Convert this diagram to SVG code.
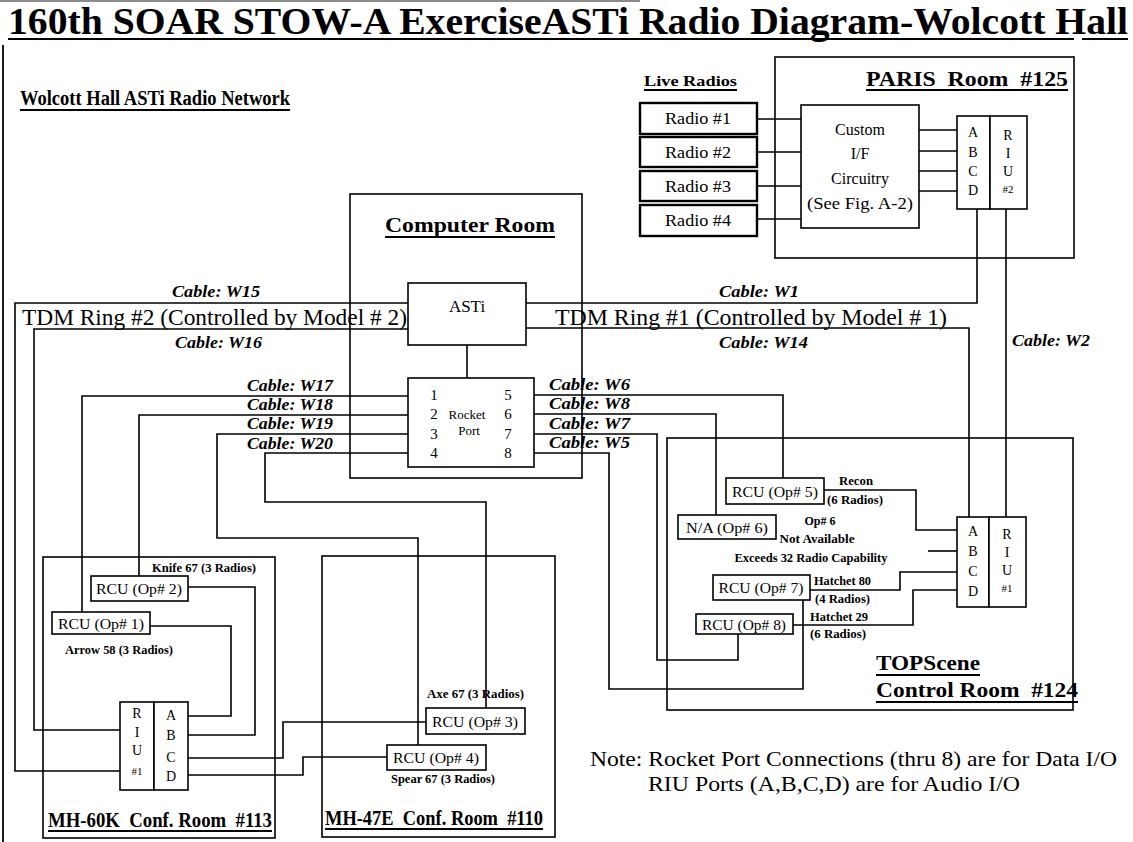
<svg xmlns="http://www.w3.org/2000/svg" width="1133" height="842" viewBox="0 0 1133 842">
<style>
.ln{fill:none;stroke:#000;stroke-width:1.6}
.room{fill:none;stroke:#000;stroke-width:1.6}
.box{fill:#fff;stroke:#000;stroke-width:1.6}
.rb{fill:#fff;stroke:#000;stroke-width:2.4}
.ul{stroke:#000;stroke-width:2}
text{font-family:"Liberation Serif","Times New Roman",serif;fill:#000}
.cab{font-weight:bold;font-style:italic;font-size:16px}
.hd{font-weight:bold;font-size:20px}
.sm{font-weight:bold;font-size:12px}
.rcu{font-size:15px;text-anchor:middle}
.let{font-size:14px;text-anchor:middle}
.num{font-size:11px;text-anchor:middle}
.mid{text-anchor:middle}
</style>
<rect x="0" y="0" width="1133" height="842" fill="#fff"/>

<g id="frame">
  <line x1="0" y1="1" x2="640" y2="1" stroke="#666" stroke-width="1.5"/>
  <line x1="3" y1="45" x2="3" y2="842" stroke="#000" stroke-width="1.8"/>
</g>

<g id="title">
  <text x="8" y="34" font-size="38" font-weight="bold" textLength="1120" lengthAdjust="spacingAndGlyphs">160th SOAR STOW-A ExerciseASTi Radio Diagram-Wolcott Hall</text>
  <line class="ul" x1="8" y1="39" x2="1074" y2="39" stroke-width="2.5"/>
  <line class="ul" x1="1082" y1="39" x2="1128" y2="39" stroke-width="2.5"/>
  <text x="20" y="105" class="hd" font-size="22" textLength="270" lengthAdjust="spacingAndGlyphs">Wolcott Hall ASTi Radio Network</text>
  <line class="ul" x1="20" y1="110" x2="290" y2="110"/>
</g>

<!-- rooms -->
<g id="computer-room">
  <rect class="room" x="350" y="194" width="232" height="284"/>
  <text x="385" y="232" class="hd" font-size="21" textLength="170" lengthAdjust="spacingAndGlyphs">Computer Room</text>
  <line class="ul" x1="385" y1="237" x2="555" y2="237"/>
</g>
<g id="paris-room">
  <rect class="room" x="775" y="57" width="299" height="201"/>
  <text x="866" y="86" class="hd" font-size="20" textLength="202" lengthAdjust="spacingAndGlyphs" xml:space="preserve">PARIS  Room  #125</text>
  <line class="ul" x1="866" y1="90" x2="1068" y2="90"/>
</g>
<g id="topscene-room">
  <rect class="room" x="667" y="438" width="406" height="272"/>
  <text x="876" y="670" class="hd" font-size="21" textLength="104" lengthAdjust="spacingAndGlyphs">TOPScene</text>
  <line class="ul" x1="876" y1="675" x2="980" y2="675"/>
  <text x="876" y="697" class="hd" font-size="21" textLength="202" lengthAdjust="spacingAndGlyphs" xml:space="preserve">Control Room  #124</text>
  <line class="ul" x1="876" y1="702" x2="1078" y2="702"/>
</g>
<g id="mh60k-room">
  <rect class="room" x="43" y="557" width="232" height="281"/>
  <text x="48" y="827" class="hd" font-size="18" textLength="224" lengthAdjust="spacingAndGlyphs" xml:space="preserve">MH-60K  Conf. Room  #113</text>
  <line class="ul" x1="48" y1="831" x2="272" y2="831"/>
</g>
<g id="mh47e-room">
  <rect class="room" x="322" y="556" width="233" height="281"/>
  <text x="325" y="825" class="hd" font-size="18" textLength="218" lengthAdjust="spacingAndGlyphs" xml:space="preserve">MH-47E  Conf. Room  #110</text>
  <line class="ul" x1="325" y1="829" x2="543" y2="829"/>
</g>

<!-- connectors -->
<g id="connectors" class="ln">
  <path d="M408 303 H15 V771 H120"/>
  <path d="M408 329 H34 V730 H120"/>
  <path d="M408 396 H82 V612"/>
  <path d="M408 415 H139 V576"/>
  <path d="M408 434 H217 V538 H418 V745"/>
  <path d="M408 453 H265 V502 H486 V708"/>
  <path d="M526 303 H977 V209"/>
  <path d="M526 328 H969 V517"/>
  <path d="M1006 209 V517"/>
  <path d="M467 345 V378"/>
  <path d="M534 395 H783 V478"/>
  <path d="M534 414 H716 V515"/>
  <path d="M534 434 H657 V660 H738 V634"/>
  <path d="M534 453 H609 V689 H803 V600"/>
  <path d="M757 119 H801 M757 152 H801 M757 186 H801 M757 219 H801"/>
  <path d="M919 130 H957 M919 151 H957 M919 171 H957 M919 191 H957"/>
  <path d="M824 490 H916 V530 H957"/>
  <path d="M928 551 H957"/>
  <path d="M957 572 H900 V590 H810"/>
  <path d="M957 590 H913 V625 H793"/>
  <path d="M150 626 H231 V716 H188"/>
  <path d="M188 587 H255 V735 H188"/>
  <path d="M188 758 H283 V722 H426"/>
  <path d="M188 775 H303 V757 H387"/>
</g>

<g id="cable-labels" class="cab">
  <text x="172" y="297" textLength="88" lengthAdjust="spacingAndGlyphs">Cable: W15</text>
  <text x="175" y="348" textLength="87" lengthAdjust="spacingAndGlyphs">Cable: W16</text>
  <text x="247" y="391" textLength="86" lengthAdjust="spacingAndGlyphs">Cable: W17</text>
  <text x="247" y="410" textLength="86" lengthAdjust="spacingAndGlyphs">Cable: W18</text>
  <text x="247" y="429" textLength="86" lengthAdjust="spacingAndGlyphs">Cable: W19</text>
  <text x="247" y="449" textLength="86" lengthAdjust="spacingAndGlyphs">Cable: W20</text>
  <text x="549" y="390" textLength="81" lengthAdjust="spacingAndGlyphs">Cable: W6</text>
  <text x="549" y="409" textLength="81" lengthAdjust="spacingAndGlyphs">Cable: W8</text>
  <text x="549" y="429" textLength="81" lengthAdjust="spacingAndGlyphs">Cable: W7</text>
  <text x="549" y="448" textLength="81" lengthAdjust="spacingAndGlyphs">Cable: W5</text>
  <text x="719" y="297" textLength="80" lengthAdjust="spacingAndGlyphs">Cable: W1</text>
  <text x="719" y="348" textLength="89" lengthAdjust="spacingAndGlyphs">Cable: W14</text>
  <text x="1012" y="346" textLength="78" lengthAdjust="spacingAndGlyphs">Cable: W2</text>
</g>

<g id="tdm-labels" font-size="23">
  <text x="22" y="325" textLength="385" lengthAdjust="spacingAndGlyphs">TDM Ring #2 (Controlled by Model # 2)</text>
  <text x="555" y="325" textLength="392" lengthAdjust="spacingAndGlyphs">TDM Ring #1 (Controlled by Model # 1)</text>
</g>

<!-- nodes -->
<g id="asti">
  <rect class="box" x="408" y="283" width="118" height="62"/>
  <text x="467" y="312" class="mid" font-size="17">ASTi</text>
</g>
<g id="rocket-port">
  <rect class="box" x="408" y="378" width="126" height="89"/>
  <text x="434" y="400" class="mid" font-size="15">1</text>
  <text x="434" y="419" class="mid" font-size="15">2</text>
  <text x="434" y="439" class="mid" font-size="15">3</text>
  <text x="434" y="458" class="mid" font-size="15">4</text>
  <text x="508" y="400" class="mid" font-size="15">5</text>
  <text x="508" y="419" class="mid" font-size="15">6</text>
  <text x="508" y="439" class="mid" font-size="15">7</text>
  <text x="508" y="458" class="mid" font-size="15">8</text>
  <text x="467" y="419" class="mid" font-size="13">Rocket</text>
  <text x="469" y="435" class="mid" font-size="13">Port</text>
</g>

<g id="live-radios">
  <text x="644" y="86" font-weight="bold" font-size="15" textLength="93" lengthAdjust="spacingAndGlyphs">Live Radios</text>
  <line class="ul" x1="644" y1="90" x2="737" y2="90" stroke-width="1.6"/>
</g>
<g id="radio-1"><rect class="rb" x="640" y="103" width="117" height="31"/><text x="698" y="124" class="mid" font-size="17" textLength="66" lengthAdjust="spacingAndGlyphs">Radio #1</text></g>
<g id="radio-2"><rect class="rb" x="640" y="137" width="117" height="30"/><text x="698" y="158" class="mid" font-size="17" textLength="66" lengthAdjust="spacingAndGlyphs">Radio #2</text></g>
<g id="radio-3"><rect class="rb" x="640" y="171" width="117" height="30"/><text x="698" y="192" class="mid" font-size="17" textLength="66" lengthAdjust="spacingAndGlyphs">Radio #3</text></g>
<g id="radio-4"><rect class="rb" x="640" y="205" width="117" height="31"/><text x="698" y="226" class="mid" font-size="17" textLength="66" lengthAdjust="spacingAndGlyphs">Radio #4</text></g>

<g id="custom-if">
  <rect class="box" x="801" y="105" width="118" height="123"/>
  <text x="860" y="135" class="mid" font-size="16">Custom</text>
  <text x="860" y="159" class="mid" font-size="16">I/F</text>
  <text x="860" y="184" class="mid" font-size="16">Circuitry</text>
  <text x="860" y="209" class="mid" font-size="16" textLength="106" lengthAdjust="spacingAndGlyphs">(See Fig. A-2)</text>
</g>

<g id="riu-2">
  <rect class="box" x="957" y="116" width="33" height="93"/>
  <rect class="box" x="990" y="116" width="37" height="93"/>
  <text x="973" y="137" class="let">A</text>
  <text x="973" y="157" class="let">B</text>
  <text x="973" y="176" class="let">C</text>
  <text x="973" y="195" class="let">D</text>
  <text x="1008" y="140" class="let" font-size="12">R</text>
  <text x="1008" y="158" class="let" font-size="12">I</text>
  <text x="1008" y="176" class="let" font-size="12">U</text>
  <text x="1008" y="193" class="num" font-size="10">#2</text>
</g>

<g id="riu-1-topscene">
  <rect class="box" x="957" y="517" width="32" height="90"/>
  <rect class="box" x="989" y="517" width="37" height="90"/>
  <text x="973" y="536" class="let">A</text>
  <text x="973" y="556" class="let">B</text>
  <text x="973" y="576" class="let">C</text>
  <text x="973" y="596" class="let">D</text>
  <text x="1007" y="539" class="let" font-size="12">R</text>
  <text x="1007" y="557" class="let" font-size="12">I</text>
  <text x="1007" y="575" class="let" font-size="12">U</text>
  <text x="1007" y="592" class="num" font-size="10">#1</text>
</g>

<g id="rcu-op5">
  <rect class="box" x="726" y="478" width="98" height="26"/>
  <text x="775" y="497" class="rcu" textLength="86" lengthAdjust="spacingAndGlyphs">RCU (Op# 5)</text>
  <text x="839" y="485" class="sm" font-size="11" textLength="34" lengthAdjust="spacingAndGlyphs">Recon</text>
  <text x="827" y="504" class="sm" font-size="11" textLength="56" lengthAdjust="spacingAndGlyphs">(6 Radios)</text>
</g>
<g id="na-op6">
  <rect class="box" x="678" y="515" width="98" height="24"/>
  <text x="727" y="533" class="rcu" textLength="82" lengthAdjust="spacingAndGlyphs">N/A (Op# 6)</text>
  <text x="820" y="525" class="sm mid" font-size="11">Op# 6</text>
  <text x="817" y="543" class="sm mid" font-size="11" textLength="75" lengthAdjust="spacingAndGlyphs">Not Available</text>
  <text x="811" y="562" class="sm mid" font-size="11" textLength="153" lengthAdjust="spacingAndGlyphs">Exceeds 32 Radio Capability</text>
</g>
<g id="rcu-op7">
  <rect class="box" x="713" y="575" width="97" height="25"/>
  <text x="761" y="593" class="rcu" textLength="85" lengthAdjust="spacingAndGlyphs">RCU (Op# 7)</text>
  <text x="814" y="585" class="sm" font-size="11" textLength="57" lengthAdjust="spacingAndGlyphs">Hatchet 80</text>
  <text x="815" y="603" class="sm" font-size="11" textLength="55" lengthAdjust="spacingAndGlyphs">(4 Radios)</text>
</g>
<g id="rcu-op8">
  <rect class="box" x="696" y="614" width="97" height="20"/>
  <text x="744" y="630" class="rcu" font-size="14" textLength="84" lengthAdjust="spacingAndGlyphs">RCU (Op# 8)</text>
  <text x="810" y="621" class="sm" font-size="11" textLength="58" lengthAdjust="spacingAndGlyphs">Hatchet 29</text>
  <text x="810" y="638" class="sm" font-size="11" textLength="56" lengthAdjust="spacingAndGlyphs">(6 Radios)</text>
</g>

<g id="rcu-op1">
  <rect class="box" x="52" y="612" width="98" height="22"/>
  <text x="101" y="629" class="rcu" textLength="86" lengthAdjust="spacingAndGlyphs">RCU (Op# 1)</text>
  <text x="65" y="654" class="sm" font-size="11" textLength="108" lengthAdjust="spacingAndGlyphs">Arrow 58 (3 Radios)</text>
</g>
<g id="rcu-op2">
  <rect class="box" x="91" y="576" width="97" height="25"/>
  <text x="139" y="594" class="rcu" textLength="86" lengthAdjust="spacingAndGlyphs">RCU (Op# 2)</text>
  <text x="152" y="572" class="sm" font-size="11" textLength="104" lengthAdjust="spacingAndGlyphs">Knife 67 (3 Radios)</text>
</g>
<g id="riu-1-mh60k">
  <rect class="box" x="120" y="702" width="34" height="88"/>
  <rect class="box" x="154" y="702" width="34" height="88"/>
  <text x="137" y="718" class="let" font-size="12">R</text>
  <text x="137" y="737" class="let" font-size="12">I</text>
  <text x="137" y="755" class="let" font-size="12">U</text>
  <text x="137" y="775" class="num" font-size="10">#1</text>
  <text x="171" y="720" class="let">A</text>
  <text x="171" y="740" class="let">B</text>
  <text x="171" y="762" class="let">C</text>
  <text x="171" y="781" class="let">D</text>
</g>

<g id="rcu-op3">
  <rect class="box" x="426" y="708" width="99" height="26"/>
  <text x="475" y="727" class="rcu" textLength="86" lengthAdjust="spacingAndGlyphs">RCU (Op# 3)</text>
  <text x="427" y="698" class="sm" font-size="11" textLength="97" lengthAdjust="spacingAndGlyphs">Axe 67 (3 Radios)</text>
</g>
<g id="rcu-op4">
  <rect class="box" x="387" y="745" width="99" height="25"/>
  <text x="436" y="763" class="rcu" textLength="86" lengthAdjust="spacingAndGlyphs">RCU (Op# 4)</text>
  <text x="391" y="783" class="sm" font-size="11" textLength="104" lengthAdjust="spacingAndGlyphs">Spear 67 (3 Radios)</text>
</g>

<g id="note" font-size="21">
  <text x="590" y="766" textLength="527" lengthAdjust="spacingAndGlyphs">Note: Rocket Port Connections (thru 8) are for Data I/O</text>
  <text x="648" y="791" textLength="372" lengthAdjust="spacingAndGlyphs">RIU Ports (A,B,C,D) are for Audio I/O</text>
</g>
</svg>
